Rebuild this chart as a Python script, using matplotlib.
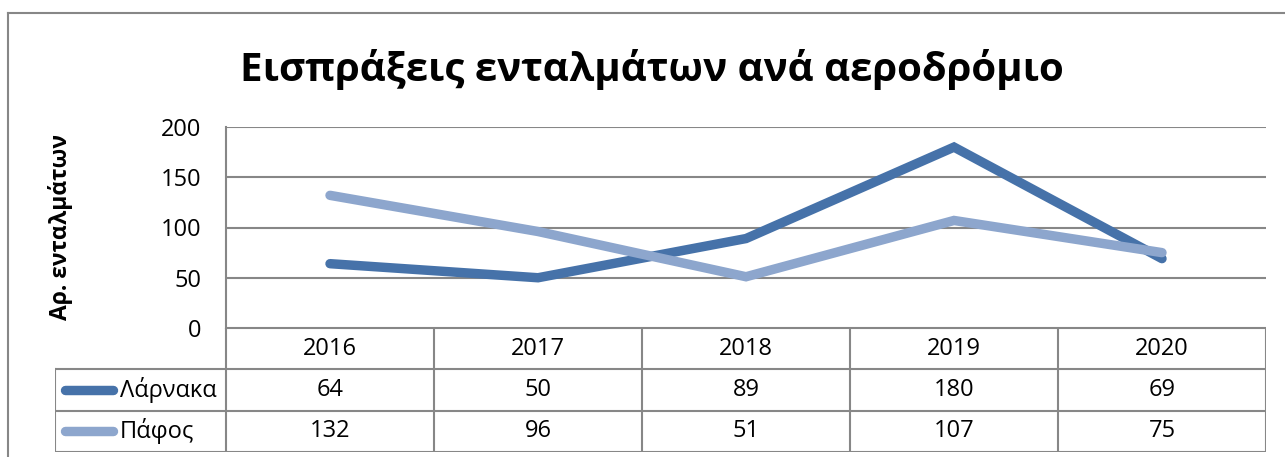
import matplotlib
matplotlib.use("Agg")
import matplotlib.pyplot as plt
from matplotlib.lines import Line2D

plt.rcParams['font.family'] = ['Open Sans', 'DejaVu Sans']

years = ['2016', '2017', '2018', '2019', '2020']
series_names = ['Λάρνακα', 'Πάφος']
larnaca = [64, 50, 89, 180, 69]
paphos = [132, 96, 51, 107, 75]
series_values = [larnaca, paphos]
series_colors = ['#4672A9', '#8DA6CD']
yticks = [0, 50, 100, 150, 200]
title = 'Εισπράξεις ενταλμάτων ανά αεροδρόμιο'
ylabel = 'Αρ. ενταλμάτων'

W, H = 1285, 457
fig = plt.figure(figsize=(W / 100, H / 100), dpi=100)
fig.patch.set_facecolor('white')

def px_rect(x0, y0, x1, y1):
    # pixel coords (top-left origin) -> figure fraction [l, b, w, h]
    return [x0 / W, (H - y1) / H, (x1 - x0) / W, (y1 - y0) / H]

grid_col = '#878787'
fs = 17

# outer chart border
fig.add_artist(Line2D([8 / W, 8 / W], [0, (H - 13) / H], color=grid_col, lw=1.5, transform=fig.transFigure))
fig.add_artist(Line2D([8 / W, 1], [(H - 13) / H, (H - 13) / H], color=grid_col, lw=1.5, transform=fig.transFigure))

# main plot axes
ax = fig.add_axes(px_rect(226, 127, 1266, 328))
n = len(years)
xs = [i + 0.5 for i in range(n)]
for vals, col, name in zip(series_values, series_colors, series_names):
    ax.plot(xs, vals, color=col, lw=6.8, solid_capstyle='round', solid_joinstyle='miter', zorder=3)
ax.set_xlim(0, n)
ax.set_ylim(0, 200)
ax.set_yticks(yticks)
ax.set_yticklabels([str(t) for t in yticks], fontsize=fs)
ax.tick_params(axis='y', length=0, pad=18)
ax.set_xticks([])
ax.grid(axis='y', color=grid_col, lw=1.5)
ax.set_axisbelow(True)
for s in ['top', 'right', 'bottom']:
    ax.spines[s].set_visible(False)
ax.spines['left'].set_color(grid_col)
ax.spines['left'].set_linewidth(1.5)
ax.set_ylabel(ylabel, fontsize=16.5, fontweight='bold')
ax.yaxis.set_label_coords(-(226 - 73) / 1040, 0.5)

# data table axes
leg_w = 171 / 208
tax = fig.add_axes(px_rect(55, 328, 1266, 452))
tax.set_xlim(-leg_w, n)
tax.set_ylim(0, 3)
tax.axis('off')
lkw = dict(color=grid_col, lw=1.5, solid_capstyle='projecting')
for y in [0, 1, 2]:
    tax.plot([-leg_w, n], [y, y], **lkw)
tax.plot([0, n], [3, 3], **lkw)
tax.plot([-leg_w, -leg_w], [0, 2], **lkw)
for x in range(n + 1):
    tax.plot([x, x], [0, 3], **lkw)
for i, yr in enumerate(years):
    tax.text(i + 0.5, 2.5, yr, ha='center', va='center', fontsize=fs)
for r, (vals, col, name) in enumerate(zip(series_values, series_colors, series_names)):
    yc = 1.5 - r
    for i, v in enumerate(vals):
        tax.text(i + 0.5, yc, str(v), ha='center', va='center', fontsize=fs)
    tax.plot([-leg_w + 10 / 208, -leg_w + 58 / 208], [yc, yc], color=col, lw=6.8, solid_capstyle='round')
    tax.text(-leg_w + 65 / 208, yc, name, ha='left', va='center', fontsize=fs)

fig.text(652 / W, (H - 70) / H, title, ha='center', va='center', fontsize=29, fontweight='bold')

fig.savefig('out.png', dpi=100)
